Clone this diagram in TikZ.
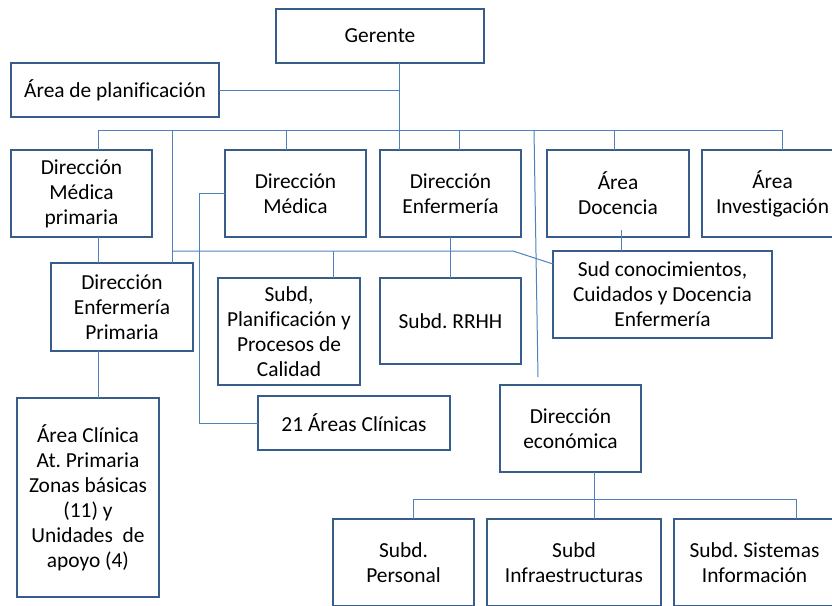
\documentclass[tikz,border=0pt]{standalone}
\usepackage{fontspec}
\setmainfont{Carlito}[Ligatures=NoCommon]
\frenchspacing
\definecolor{boxline}{RGB}{56,93,138}
\definecolor{linkcol}{RGB}{79,129,189}
\begin{document}
\begin{tikzpicture}[x=1pt,y=-1pt,
  box/.style={draw=boxline,line width=2.4pt,inner sep=0pt,outer sep=0pt,
    align=center,font=\fontsize{21.4}{25}\selectfont},
  link/.style={draw=linkcol,line width=1pt}]
\useasboundingbox (0,0) rectangle (832,605);
\clip (0,0) rectangle (832,605);

% boxes
\node[box,minimum width=208,minimum height=54] (ger) at (380,36) {Gerente};
\node[box,minimum width=208,minimum height=54] (plan) at (115,90) {Área de planificación};
\node[box,minimum width=141,minimum height=87] (dmp) at (81.5,193.5) {Dirección\\Médica\\primaria};
\node[box,minimum width=141,minimum height=87] (dm) at (295.5,193.5) {Dirección\\Médica};
\node[box,minimum width=141,minimum height=87] (de) at (450.5,193.5) {Dirección\\Enfermería};
\node[box,minimum width=142,minimum height=87] (ad) at (618,193.5) {Área\\Docencia};
\node[box,minimum width=141,minimum height=87] (ai) at (772.5,193.5) {Área\\Investigación};
\node[box,minimum width=142,minimum height=88] (dep) at (122,307) {Dirección\\Enfermería\\Primaria};
\node[box,minimum width=142,minimum height=199] (ac) at (88,497.5) {Área Clínica\\At. Primaria\\Zonas básicas\\(11) y\\Unidades\ \ de\\apoyo (4)};
\node[box,minimum width=142,minimum height=107] (spc) at (289,331.5) {Subd,\\Planificación y\\Procesos de\\Calidad};
\node[box,minimum width=141,minimum height=86] (rrhh) at (450.5,321) {Subd. RRHH};
\node[box,minimum width=219,minimum height=87] (sud) at (662.5,294.5) {Sud conocimientos,\\Cuidados y Docencia\\Enfermería};
\node[box,minimum width=192,minimum height=54] (ac21) at (354,423) {21 Áreas Clínicas};
\node[box,minimum width=141,minimum height=87] (dec) at (570.5,428.5) {Dirección\\económica};
\node[box,minimum width=141,minimum height=87] (sp) at (403.5,562.5) {Subd.\\Personal};
\node[box,minimum width=174,minimum height=87] (si) at (574,562.5) {Subd\\Infraestructuras};
\node[box,minimum width=161,minimum height=87] (ss) at (754.5,562.5) {Subd. Sistemas\\Información};

% junction points
\coordinate (gx) at (399,90);
\coordinate (busL) at (98,130);
\coordinate (busR) at (782,130);
\coordinate (d1) at (172,130);
\coordinate (d2) at (286,130);
\coordinate (d3) at (459,130);
\coordinate (d4) at (534,130);
\coordinate (d5) at (614,130);
\coordinate (econEnd) at (538,377);
\coordinate (b2L) at (172,251);
\coordinate (b2k) at (513,251);
\coordinate (b2s) at (333,251);
\coordinate (sudIn) at (553,264);
\coordinate (vx) at (199,300);
\coordinate (adx) at (621,230);
\coordinate (ex) at (594,499);
\coordinate (eL) at (413,499);
\coordinate (eR) at (796,499);

% connectors
\draw[link] (ger.south -| gx) -- (de.north -| gx);
\draw[link] (plan.east) -- (gx);
\draw[link] (busL) -- (busR);
\draw[link] (busL) -- (dmp.north -| busL);
\draw[link] (d1) -- (dep.north -| d1);
\draw[link] (d2) -- (dm.north -| d2);
\draw[link] (d3) -- (de.north -| d3);
\draw[link] (d4) -- (econEnd);
\draw[link] (d5) -- (ad.north -| d5);
\draw[link] (busR) -- (ai.north -| busR);
\draw[link] (b2L) -- (b2k) -- (sudIn);
\draw[link] (b2s) -- (spc.north -| b2s);
\draw[link] (de.south) -- (rrhh.north);
\draw[link] (dm.west) -- (dm.west -| vx) -- (ac21.west -| vx) -- (ac21.west);
\draw[link] (dmp.south -| busL) -- (dep.north -| busL);
\draw[link] (dep.south -| busL) -- (ac.north -| busL);
\draw[link] (adx) -- (sud.north -| adx);
\draw[link] (dec.south -| ex) -- (ex);
\draw[link] (eL) -- (eR);
\draw[link] (eL) -- (sp.north -| eL);
\draw[link] (ex) -- (si.north -| ex);
\draw[link] (eR) -- (ss.north -| eR);
\end{tikzpicture}
\end{document}
